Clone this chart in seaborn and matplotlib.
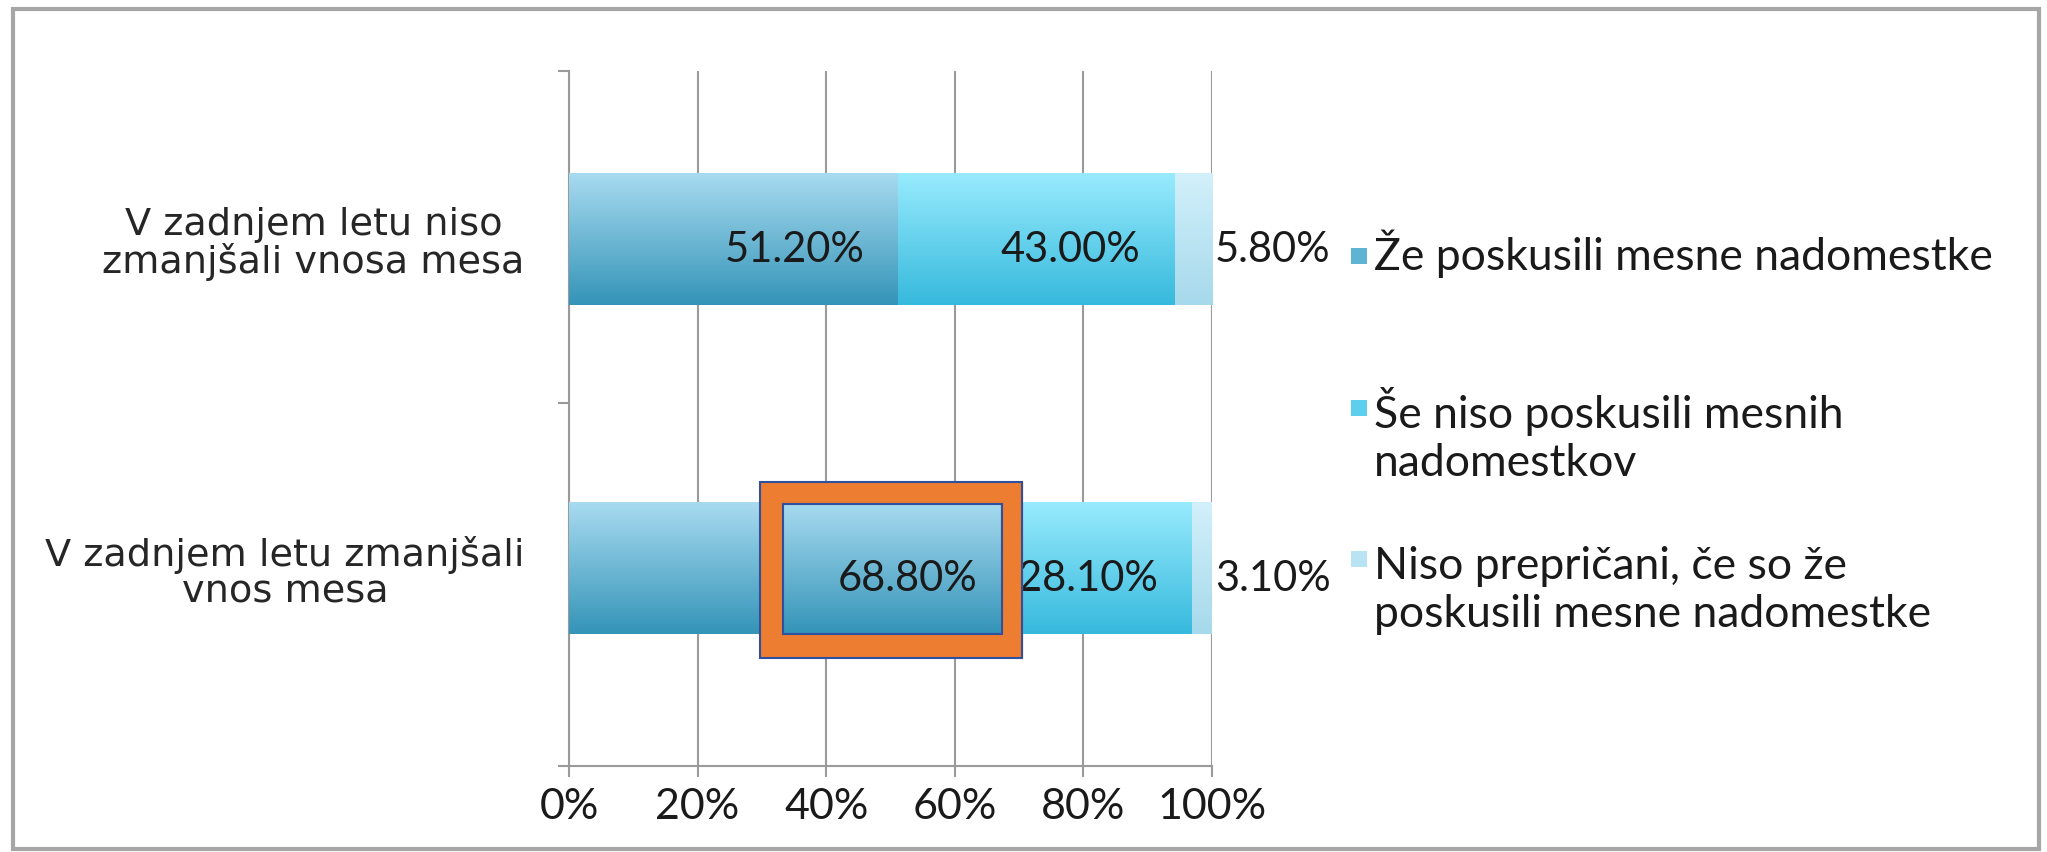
import numpy as np
import pandas as pd
import matplotlib
matplotlib.use("Agg")
import matplotlib.pyplot as plt
import seaborn as sns
from matplotlib.patches import Rectangle
from matplotlib.colors import to_rgb

# ---- data ----
categories = ["V zadnjem letu niso\nzmanjšali vnosa mesa",
              "V zadnjem letu zmanjšali\nvnos mesa"]
series_names = ["Že poskusili mesne nadomestke",
                "Še niso poskusili mesnih\nnadomestkov",
                "Niso prepričani, če so že\nposkusili mesne nadomestke"]
tried = [51.2, 68.8]
not_tried = [43.0, 28.1]
unsure = [5.8, 3.1]
xtick_values = [0, 20, 40, 60, 80, 100]
xtick_labels = ["0%", "20%", "40%", "60%", "80%", "100%"]

# ---- style ----
sns.set_theme(style="white")
plt.rcParams['font.family'] = ['Lato', 'DejaVu Sans']
TXT = "#1a1a1a"
GRID = "#9a9a9a"
grads = [("#a8dbf0", "#3494b8"), ("#98ebfd", "#36b9dd"), ("#d2f0fa", "#a6d9ec")]
mids = ["#5fb4d4", "#5ccfee", "#b8e3f2"]

fig = plt.figure(figsize=(20.47, 8.53), dpi=100)
ax = fig.add_axes([0.278, 0.101, 0.314, 0.815])

df = pd.DataFrame({"cat": categories, "tried": tried,
                   "not_tried": not_tried, "unsure": unsure})
cols = ["tried", "not_tried", "unsure"]

left = np.zeros(len(categories))
seg_patches = []
lefts = []
for col, mc in zip(cols, mids):
    n0 = len(ax.patches)
    sns.barplot(data=df, x=col, y="cat", order=categories, orient="y",
                left=left, color=mc, width=0.4, saturation=1,
                errorbar=None, linewidth=0, ax=ax, zorder=3)
    seg_patches.append(list(ax.patches[n0:]))
    lefts.append(left.copy())
    left = left + df[col].values

# gradient fill clipped to each bar
for patches, (ct, cb) in zip(seg_patches, grads):
    g = np.linspace(0, 1, 256)[:, None, None]
    img = (1 - g) * np.array(to_rgb(ct)) + g * np.array(to_rgb(cb))
    for p in patches:
        x0, y0 = p.get_x(), p.get_y()
        w, h = p.get_width(), p.get_height()
        im = ax.imshow(img, extent=(x0, x0 + w, y0 + h, y0), origin="upper",
                       aspect="auto", zorder=3.5, interpolation="bilinear")
        im.set_clip_path(p)

ax.set_xlim(0, 100)
ax.set_ylim(1.6, -0.51)

# value labels
for i in range(len(categories)):
    yv = i + 0.03
    for s, vals in enumerate([tried, not_tried]):
        end = lefts[s][i] + vals[i]
        ax.text(end - 5.3, yv, f"{vals[i]:.2f}%", ha="right", va="center",
                fontsize=30, color=TXT, zorder=6)
    ax.text(100.5, yv, f"{unsure[i]:.2f}%", ha="left", va="center",
            fontsize=30, color=TXT, zorder=6)

# axes styling
ax.set_xticks(xtick_values)
ax.set_xticklabels(xtick_labels, fontsize=31, color=TXT)
ax.set_yticks([-0.51, 0.5, 1.6])
ax.set_yticklabels([])
ax.set_yticks([0, 1], minor=True)
ax.set_yticklabels(categories, minor=True, fontsize=27.5, color="#262626",
                   family="DejaVu Sans", multialignment="center", linespacing=1.0)
ax.tick_params(axis="y", which="minor", length=0, pad=32)
ax.tick_params(axis="y", which="major", length=8, width=1.5, color=GRID, direction="out", left=True)
ax.tick_params(axis="x", length=8, width=1.5, color=GRID, direction="out", pad=7, bottom=True)
ax.set_xlabel("")
ax.set_ylabel("")
for sp in ["top", "right"]:
    ax.spines[sp].set_visible(False)
for sp in ["left", "bottom"]:
    ax.spines[sp].set_color(GRID)
    ax.spines[sp].set_linewidth(1.5)
ax.xaxis.grid(True, color=GRID, linewidth=1.5, zorder=0)
ax.set_axisbelow(True)

# highlight box around 68.80%
ax.add_patch(Rectangle((31.5, 0.773), 37.4, 0.464, fill=False,
                       edgecolor="#ed7d31", linewidth=16, joinstyle="miter", zorder=7))
ax.add_patch(Rectangle((29.7, 0.739), 40.8, 0.534, fill=False,
                       edgecolor="#2f4f9f", linewidth=1.5, zorder=8))
ax.add_patch(Rectangle((33.3, 0.806), 34.0, 0.394, fill=False,
                       edgecolor="#2f4f9f", linewidth=1.5, zorder=8))

# legend (manual); first-line baselines
LEG_FS = 32
line_h = 1.2 * LEG_FS * (100 / 72) / 853.0
leg_y = [0.683, 0.505, 0.328]
for name, mc, yb in zip(series_names, mids, leg_y):
    n_lines = name.count("\n") + 1
    fig.patches.append(Rectangle((0.660, yb + 0.006), 0.0078, 0.019,
                                 transform=fig.transFigure, facecolor=mc,
                                 edgecolor="none"))
    fig.text(0.671, yb - (n_lines - 1) * line_h, name, ha="left", va="baseline",
             fontsize=LEG_FS, color=TXT, linespacing=1.2)

# outer border
fig.patches.append(Rectangle((0.0065, 0.004), 0.9895, 0.984, transform=fig.transFigure,
                             fill=False, edgecolor="#a6a6a6", linewidth=3))

fig.savefig("out.png", dpi=100)
